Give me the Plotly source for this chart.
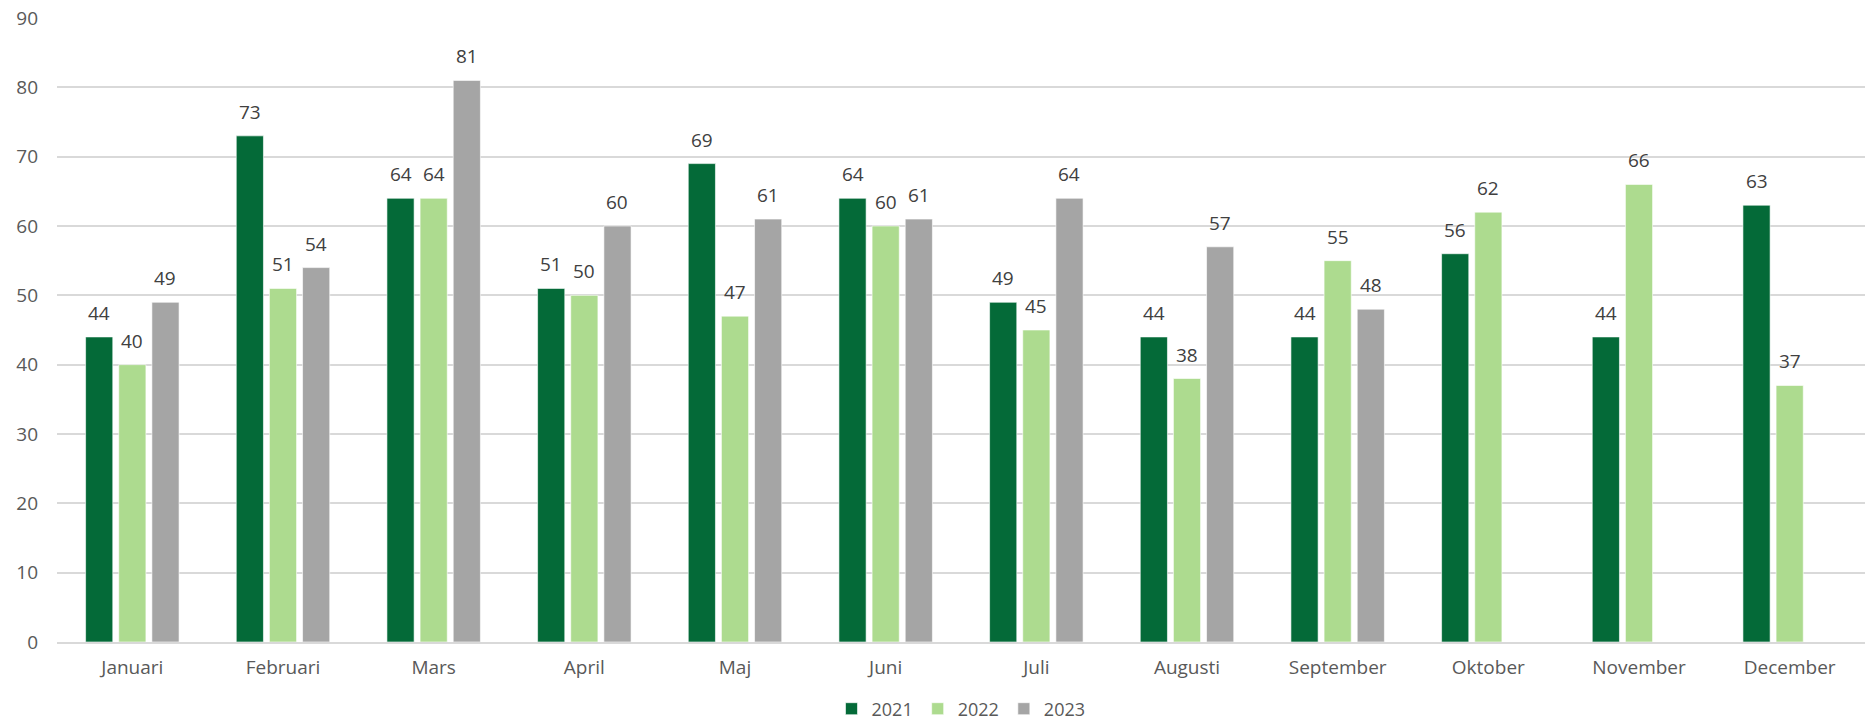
import plotly.graph_objects as go

months = ["Januari", "Februari", "Mars", "April", "Maj", "Juni", "Juli",
          "Augusti", "September", "Oktober", "November", "December"]
v2021 = [44, 73, 64, 51, 69, 64, 49, 44, 44, 56, 44, 63]
v2022 = [40, 51, 64, 50, 47, 60, 45, 38, 55, 62, 66, 37]
v2023 = [49, 54, 81, 60, 61, 61, 64, 57, 48, None, None, None]

series = [("2021", v2021, "#046A38"), ("2022", v2022, "#ADDB8F"), ("2023", v2023, "#A5A5A5")]

W, H = 1865, 725
ML, MR, MT, MB = 57, 0, 18, 83
BARGAP, GROUPGAP = 0.34, 0.18

fig = go.Figure()
for name, vals, col in series:
    fig.add_trace(go.Bar(
        x=months, y=vals, name=name,
        marker=dict(color=col, line=dict(color="rgba(255,255,255,0.6)", width=1)),
        cliponaxis=False,
    ))

# data labels as annotations placed above each bar
cat_px = (W - ML - MR) / len(months)
slot_px = cat_px * (1 - BARGAP) / len(series)
for i, (name, vals, col) in enumerate(series):
    shift = (i - (len(series) - 1) / 2) * slot_px
    for m, v in zip(months, vals):
        if v is None:
            continue
        fig.add_annotation(x=m, y=v, text=str(v), showarrow=False,
                           xshift=shift, yanchor="bottom", yshift=9,
                           font=dict(size=19, color="#404040", family="Open Sans"))

plot_h = H - MT - MB
legend_center_px = 709  # from top of page
fig.update_layout(
    width=W, height=H,
    margin=dict(l=ML, r=MR, t=MT, b=MB, autoexpand=False),
    paper_bgcolor="white", plot_bgcolor="white",
    barmode="group", bargap=BARGAP, bargroupgap=GROUPGAP,
    font=dict(family="Open Sans", size=19, color="#595959"),
    showlegend=True,
    legend=dict(orientation="h", x=0.5, xanchor="center",
                y=-(legend_center_px - (H - MB)) / plot_h, yanchor="middle",
                font=dict(size=18, color="#595959"), itemwidth=30, traceorder="normal"),
    xaxis=dict(showgrid=False, showline=True, linecolor="#D9D9D9", linewidth=1.5,
               ticks="", ticklabelstandoff=7, tickfont=dict(size=19, color="#595959")),
    yaxis=dict(range=[0, 90], dtick=10, showgrid=True, gridcolor="#D9D9D9", gridwidth=1.5,
               zeroline=False, showline=False, ticks="", ticklabelstandoff=18,
               tickfont=dict(size=19, color="#595959")),
)

fig.write_html("out.html", config={"displayModeBar": False},
               post_script="document.body.style.margin='0';document.body.style.overflow='hidden';")
